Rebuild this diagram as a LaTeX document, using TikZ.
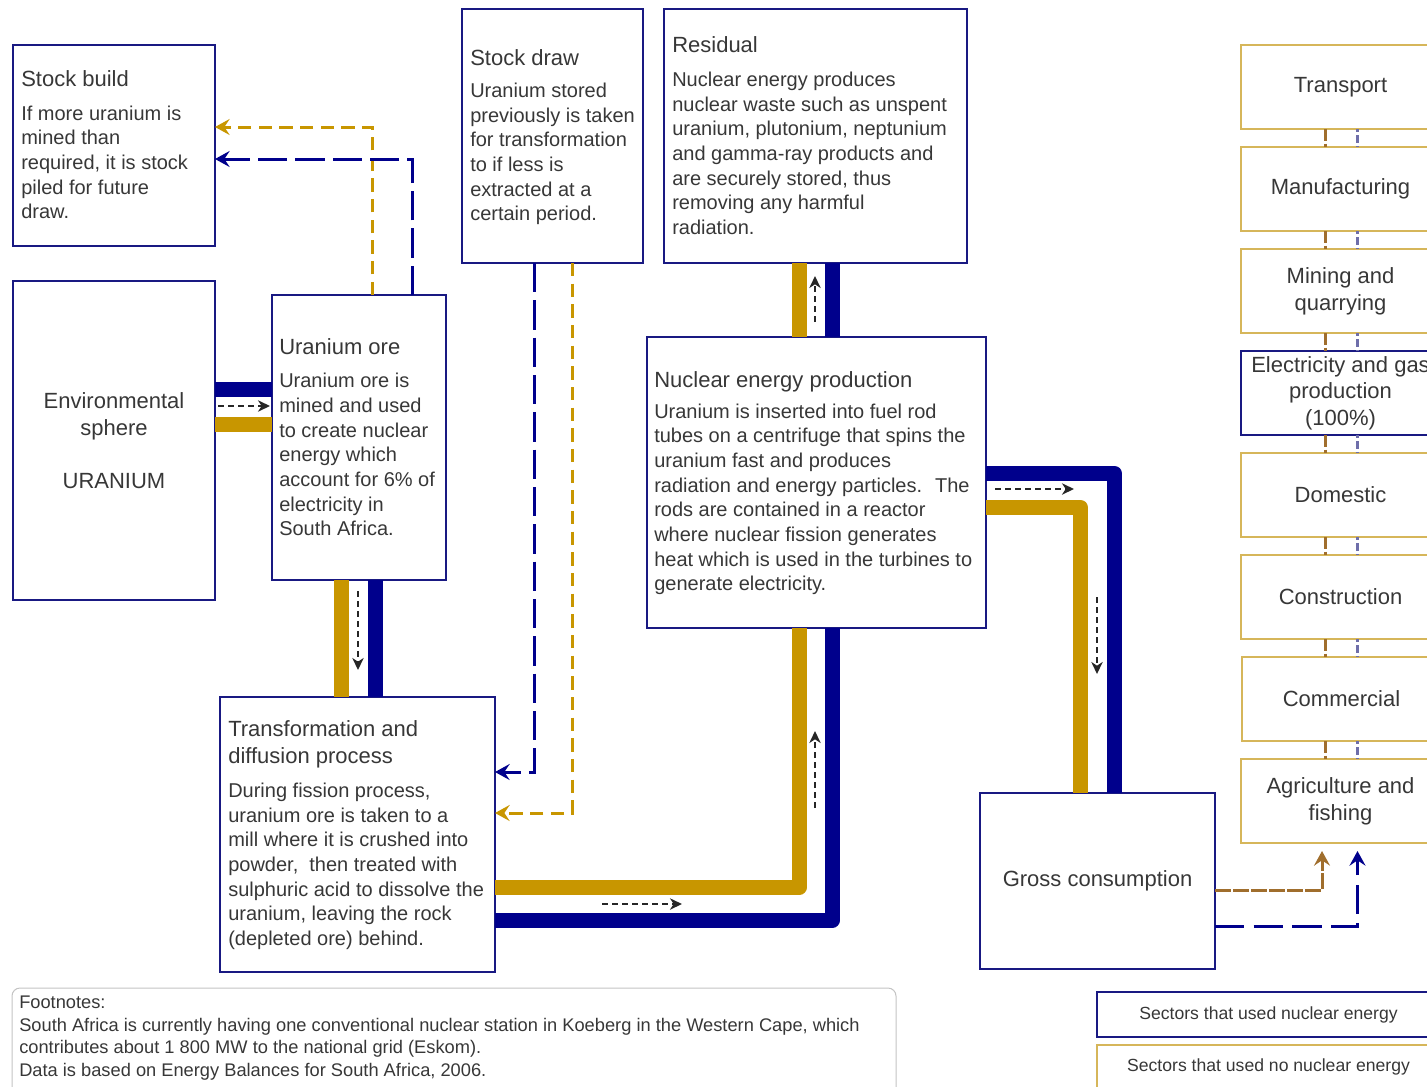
\documentclass[tikz,border=0pt]{standalone}
\usepackage{fontspec}
\setmainfont{Liberation Sans}
\usetikzlibrary{arrows.meta}

\definecolor{cNavy}{RGB}{0,0,140}
\definecolor{cBoxNavy}{RGB}{25,25,130}
\definecolor{cGold}{RGB}{200,150,0}
\definecolor{cSectorGold}{RGB}{214,182,90}
\definecolor{cBrown}{RGB}{160,110,45}
\definecolor{cSlate}{RGB}{110,110,170}
\definecolor{cInk}{RGB}{55,55,55}
\definecolor{cNote}{RGB}{195,195,195}

\newcommand{\pxl}{0.75pt}
\newcommand{\boxtitlefont}{\fontsize{16.5}{20}\selectfont}
\newcommand{\boxbodyfont}{\fontsize{15}{18.5}\selectfont}
\newcommand{\sectorfont}{\fontsize{16.5}{20}\selectfont}
\newcommand{\legendfont}{\fontsize{13.2}{16}\selectfont}
\newcommand{\notefont}{\fontsize{13.7}{17}\selectfont}

\tikzset{
  box/.style={draw=cBoxNavy, line width=1.5pt, inner sep=0pt, outer sep=0pt},
  sectorbox/.style={draw=cSectorGold, line width=1.5pt, inner sep=0pt, outer sep=0pt,
    align=center, font=\sectorfont, text=cInk,
    minimum width=199*\pxl, minimum height=84*\pxl},
  centretext/.style={align=center, font=\sectorfont, text=cInk},
  boxtitle/.style={anchor=base west, inner sep=0pt, font=\boxtitlefont, text=cInk},
  boxbody/.style={anchor=north west, inner sep=0pt, align=left, font=\boxbodyfont, text=cInk},
  thicknavy/.style={draw=cNavy, line width=11.25pt, line join=round},
  thickgold/.style={draw=cGold, line width=11.25pt, line join=round},
  flowdir/.style={draw=black!85, line width=1.5pt, dash pattern=on 4.5pt off 3pt,
    -{Stealth[length=9pt,width=8.5pt,inset=2.8pt]}},
  colortip/.style={-{Stealth[length=11pt,width=12pt,inset=4pt]}},
  stockgold/.style={draw=cGold, line width=2.25pt, dash pattern=on 10pt off 5.5pt, colortip},
  stocknavy/.style={draw=cNavy, line width=2.25pt, dash pattern=on 22pt off 6pt, colortip},
  usebrown/.style={draw=cBrown, line width=2.25pt, dash pattern=on 12pt off 1.5pt, colortip},
  usenavy/.style={draw=cNavy, line width=2.25pt, dash pattern=on 22pt off 7pt, colortip},
  sectorlinkA/.style={draw=cBrown, line width=2.25pt, dash pattern=on 9pt off 2pt},
  sectorlinkB/.style={draw=cSlate, line width=2.25pt, dash pattern=on 2pt off 2.5pt on 6pt off 2.5pt},
}

\begin{document}
\begin{tikzpicture}[x=0.75pt, y=-0.75pt]
\path[use as bounding box, clip] (0,0) rectangle (1427,1086);

% ---------- process boxes ----------
\node[box, minimum width=202*\pxl, minimum height=201*\pxl] (stockbuild) at (114,145.5) {};
\node[box, minimum width=202*\pxl, minimum height=319*\pxl, centretext] (env) at (114,440.5)
  {Environmental\\sphere\\[20pt]URANIUM};
\node[box, minimum width=174*\pxl, minimum height=285*\pxl] (ore) at (359,437.5) {};
\node[box, minimum width=181*\pxl, minimum height=254*\pxl] (stockdraw) at (552.5,136) {};
\node[box, minimum width=303*\pxl, minimum height=254*\pxl] (residual) at (815.5,136) {};
\node[box, minimum width=339*\pxl, minimum height=291*\pxl] (nuclear) at (816.5,482.5) {};
\node[box, minimum width=275*\pxl, minimum height=275*\pxl] (transf) at (357.5,834.5) {};
\node[box, minimum width=235*\pxl, minimum height=176*\pxl, centretext] (gross) at (1097.5,881)
  {Gross consumption};

% ---------- box texts ----------
\node[boxtitle] (sbTitle) at (21,86.7) {Stock build};
\node[boxbody] (sbBody) at (21,105.4) {If more uranium is\\mined than\\required, it is stock\\piled for future\\draw.};

\node[boxtitle] (oreTitle) at (279,354.5) {Uranium ore};
\node[boxbody] (oreBody) at (279,372.9) {Uranium ore is\\mined and used\\to create nuclear\\energy which\\account for 6\% of\\electricity in\\South Africa.};

\node[boxtitle] (sdTitle) at (470,65) {Stock draw};
\node[boxbody] (sdBody) at (470,82.9) {Uranium stored\\previously is taken\\for transformation\\to if less is\\extracted at a\\certain period.};

\node[boxtitle] (resTitle) at (672,52.7) {Residual};
\node[boxbody] (resBody) at (672,71.9) {Nuclear energy produces\\nuclear waste such as unspent\\uranium, plutonium, neptunium\\and gamma-ray products and\\are securely stored, thus\\removing any harmful\\radiation.};

\node[boxtitle] (nucTitle) at (654,387) {Nuclear energy production};
\node[boxbody] (nucBody) at (654,403.4) {Uranium is inserted into fuel rod\\tubes on a centrifuge that spins the\\uranium fast and produces\\radiation and energy particles.~ The\\rods are contained in a reactor\\where nuclear fission generates\\heat which is used in the turbines to\\generate electricity.};

\node[boxbody, font=\boxtitlefont] (trTitle) at (228,720.6) {Transformation and\\diffusion process};
\node[boxbody] (trBody) at (228,782.7) {During fission process,\\uranium ore is taken to a\\mill where it is crushed into\\powder,~ then treated with\\sulphuric acid to dissolve the\\uranium, leaving the rock\\(depleted ore) behind.};

% ---------- consuming sectors ----------
\node[sectorbox] (sT) at (1340.5,87)  {Transport};
\node[sectorbox] (sM) at (1340.5,189) {Manufacturing};
\node[sectorbox] (sQ) at (1340.5,291) {Mining and\\quarrying};
\node[sectorbox, draw=cBoxNavy] (sE) at (1340.5,393) {Electricity and gas\\production\\(100\%)};
\node[sectorbox] (sD) at (1340.5,495) {Domestic};
\node[sectorbox] (sC) at (1340.5,597) {Construction};
\node[sectorbox] (sK) at (1341.5,699) {Commercial};
\node[sectorbox] (sA) at (1340.5,801) {Agriculture and\\fishing};

\coordinate (laneBrown) at (1325.5,0);
\coordinate (laneSlate) at (1357,0);
\foreach \a/\b in {sT/sM, sM/sQ, sQ/sE, sE/sD, sD/sC, sC/sK, sK/sA} {
  \draw[sectorlinkA] (\a.south -| laneBrown) -- (\b.north -| laneBrown);
  \draw[sectorlinkB] (\a.south -| laneSlate) -- (\b.north -| laneSlate);
}

% ---------- legend ----------
\node[box, minimum width=343*\pxl, minimum height=45*\pxl, font=\legendfont, text=cInk] (legUsed) at (1268.5,1014.5)
  {Sectors that used nuclear energy};
\node[box, draw=cSectorGold, minimum width=343*\pxl, minimum height=43*\pxl, font=\legendfont, text=cInk] (legNone) at (1268.5,1066.5)
  {Sectors that used no nuclear energy};

% ---------- footnotes ----------
\node[draw=cNote, line width=0.75pt, rounded corners=6pt, minimum width=884*\pxl, minimum height=110*\pxl, inner sep=0pt] (notes) at (454,1043) {};
\node[boxbody, font=\notefont] (notesText) at (19,995.6)
  {Footnotes:\\South Africa is currently having one conventional nuclear station in Koeberg in the Western Cape, which\\contributes about 1 800 MW to the national grid (Eskom).\\Data is based on Energy Balances for South Africa, 2006.};

% ---------- main material flows ----------
\coordinate (eoN) at (243,389);
\coordinate (eoG) at (243,424);
\draw[thicknavy] (env.east |- eoN) -- (ore.west |- eoN);
\draw[thickgold] (env.east |- eoG) -- (ore.west |- eoG);

\coordinate (otG) at (341,640);
\coordinate (otN) at (375,640);
\draw[thickgold] (ore.south -| otG) -- (transf.north -| otG);
\draw[thicknavy] (ore.south -| otN) -- (transf.north -| otN);

\coordinate (tnG) at (799.5,887);
\coordinate (tnN) at (832.5,920);
\draw[thickgold] (transf.east |- tnG) -- (tnG) -- (nuclear.south -| tnG);
\draw[thicknavy] (transf.east |- tnN) -- (tnN) -- (nuclear.south -| tnN);

\draw[thickgold] (nuclear.north -| tnG) -- (residual.south -| tnG);
\draw[thicknavy] (nuclear.north -| tnN) -- (residual.south -| tnN);

\coordinate (ngN) at (1114.5,473.5);
\coordinate (ngG) at (1080.5,507.5);
\draw[thicknavy] (nuclear.east |- ngN) -- (ngN) -- (gross.north -| ngN);
\draw[thickgold] (nuclear.east |- ngG) -- (ngG) -- (gross.north -| ngG);

% ---------- flow direction markers ----------
\draw[flowdir] (218,406) -- (270,406);
\draw[flowdir] (358,591) -- (358,670);
\draw[flowdir] (602,904) -- (682,904);
\draw[flowdir] (815,808) -- (815,731);
\draw[flowdir] (815,322) -- (815,276);
\draw[flowdir] (995,489) -- (1074,489);
\draw[flowdir] (1097,597) -- (1097,674);

% ---------- stock movements ----------
\coordinate (osG) at (372.5,127);
\coordinate (osN) at (412.5,159);
\draw[stockgold] (ore.north -| osG) -- (osG) -- (stockbuild.east |- osG);
\draw[stocknavy] (ore.north -| osN) -- (osN) -- (stockbuild.east |- osN);

\coordinate (stN) at (534.5,772);
\coordinate (stG) at (572,813);
\draw[stocknavy] (stockdraw.south -| stN) -- (stN) -- (transf.east |- stN);
\draw[stockgold] (stockdraw.south -| stG) -- (stG) -- (transf.east |- stG);

% ---------- final use ----------
\coordinate (gaB) at (1322,890);
\coordinate (gaN) at (1357.5,926);
\draw[usebrown, shorten >=6pt] (gross.east |- gaB) -- (gaB) -- (sA.south -| gaB);
\draw[usenavy, shorten >=6pt] (gross.east |- gaN) -- (gaN) -- (sA.south -| gaN);

\end{tikzpicture}
\end{document}
